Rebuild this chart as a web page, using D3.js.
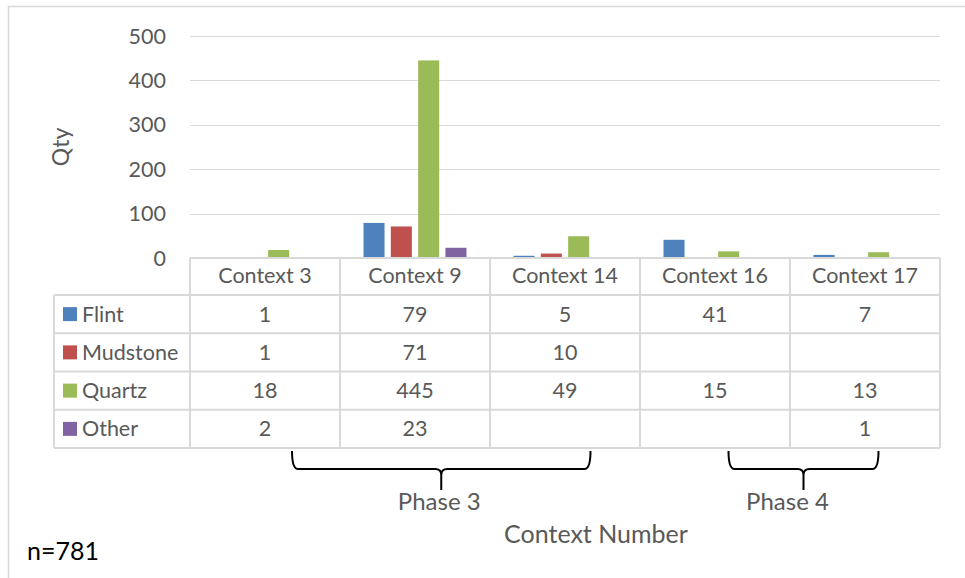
<!DOCTYPE html>
<html lang="en">
  <head>
    <meta charset="UTF-8" />
    <style>
      body {
        margin: 0;
        background: #fff;
      }
      svg {
        font-family: Lato, "Open Sans", sans-serif;
        font-size: 21.5px;
      }
      .grid line {
        stroke: #d9d9d9;
        stroke-width: 1.5;
        shape-rendering: crispEdges;
      }
      .tbl line {
        stroke: #d9d9d9;
        stroke-width: 2;
      }
      .lbl {
        fill: #595959;
      }
      .brace {
        fill: none;
        stroke: #000;
        stroke-width: 2;
      }
    </style>
    <script src="https://d3js.org/d3.v7.min.js"></script>
    <title>Qty by context</title>
  </head>
  <body>
    <script>
      // data
      var contexts = ["Context 3", "Context 9", "Context 14", "Context 16", "Context 17"];
      var series = ["Flint", "Mudstone", "Quartz", "Other"];
      var colors = ["#4f81bd", "#c0504d", "#9bbb59", "#8064a2"];
      var flint = [1, 79, 5, 41, 7];
      var mudstone = [1, 71, 10, null, null];
      var quartz = [18, 445, 49, 15, 13];
      var other = [2, 23, null, null, 1];
      var yTicks = [0, 100, 200, 300, 400, 500];
      // phase groupings (start column, end column, fraction inside the column)
      var phases = [
        { name: "Phase 3", from: "Context 3", fromF: 0.68, to: "Context 14", toF: 0.67, shift: -2 },
        { name: "Phase 4", from: "Context 16", fromF: 0.59, to: "Context 17", toF: 0.59, shift: -16 }
      ];

      var values = [flint, mudstone, quartz, other];
      var width = 965,
        height = 578;

      var svg = d3
        .select("body")
        .append("svg")
        .attr("width", width)
        .attr("height", height);

      // chart border
      svg
        .append("rect")
        .attr("x", 8.5)
        .attr("y", 6.5)
        .attr("width", width + 10)
        .attr("height", height + 10)
        .attr("fill", "#fff")
        .attr("stroke", "#d9d9d9")
        .attr("stroke-width", 1.5);

      var x0 = d3.scaleBand().domain(contexts).range([190, 940]).padding(0);
      var x1 = d3
        .scaleBand()
        .domain(series)
        .range([0, x0.bandwidth()])
        .paddingInner(0.23)
        .paddingOuter(0.86);
      var y = d3.scaleLinear().domain([0, 500]).range([258, 36]);

      // gridlines
      svg
        .append("g")
        .attr("class", "grid")
        .selectAll("line")
        .data(yTicks.slice(1))
        .enter()
        .append("line")
        .attr("x1", 190)
        .attr("x2", 940)
        .attr("y1", function (d) { return Math.round(y(d)) + 0.5; })
        .attr("y2", function (d) { return Math.round(y(d)) + 0.5; });

      // y axis labels
      svg
        .append("g")
        .selectAll("text")
        .data(yTicks)
        .enter()
        .append("text")
        .attr("class", "lbl")
        .attr("x", 166)
        .attr("y", function (d) { return y(d); })
        .attr("dy", "0.35em")
        .attr("text-anchor", "end")
        .text(function (d) { return d; });

      svg
        .append("text")
        .attr("class", "lbl")
        .attr("transform", "translate(69,147) rotate(-90)")
        .attr("text-anchor", "middle")
        .style("font-size", "23px")
        .text("Qty");

      // bars
      var bars = [];
      series.forEach(function (s, i) {
        contexts.forEach(function (c, j) {
          if (values[i][j] != null) bars.push({ s: s, c: c, v: values[i][j], color: colors[i] });
        });
      });
      svg
        .append("g")
        .selectAll("rect")
        .data(bars)
        .enter()
        .append("rect")
        .attr("x", function (d) { return x0(d.c) + x1(d.s); })
        .attr("y", function (d) { return y(d.v); })
        .attr("width", x1.bandwidth())
        .attr("height", function (d) { return y(0) - y(d.v); })
        .attr("fill", function (d) { return d.color; });

      // data table
      var rowY = d3.scaleBand().domain(series).range([295, 448]);
      var tbl = svg.append("g").attr("class", "tbl");

      // horizontal lines
      tbl.append("line").attr("x1", 190).attr("x2", 940).attr("y1", 258).attr("y2", 258);
      [295].concat(series.map(function (s) { return rowY(s) + rowY.bandwidth(); })).forEach(function (yy) {
        tbl.append("line").attr("x1", 54).attr("x2", 940).attr("y1", yy).attr("y2", yy);
      });
      // vertical lines
      contexts.forEach(function (c) {
        tbl.append("line").attr("x1", x0(c)).attr("x2", x0(c)).attr("y1", 258).attr("y2", 448);
      });
      tbl.append("line").attr("x1", 940).attr("x2", 940).attr("y1", 258).attr("y2", 448);
      tbl.append("line").attr("x1", 54).attr("x2", 54).attr("y1", 295).attr("y2", 448);

      // column headers
      svg
        .append("g")
        .selectAll("text")
        .data(contexts)
        .enter()
        .append("text")
        .attr("class", "lbl")
        .attr("x", function (d) { return x0(d) + x0.bandwidth() / 2; })
        .attr("y", 283)
        .attr("text-anchor", "middle")
        .text(function (d) { return d; });

      // legend keys + names
      var leg = svg
        .append("g")
        .selectAll("g")
        .data(series)
        .enter()
        .append("g")
        .attr("transform", function (d) { return "translate(0," + (rowY(d) + rowY.bandwidth() / 2) + ")"; });
      leg
        .append("rect")
        .attr("x", 63)
        .attr("y", -7)
        .attr("width", 14)
        .attr("height", 14)
        .attr("fill", function (d, i) { return colors[i]; });
      leg
        .append("text")
        .attr("class", "lbl")
        .attr("x", 82)
        .attr("dy", "0.35em")
        .text(function (d) { return d; });

      // cell values
      svg
        .append("g")
        .selectAll("text")
        .data(bars)
        .enter()
        .append("text")
        .attr("class", "lbl")
        .attr("x", function (d) { return x0(d.c) + x0.bandwidth() / 2; })
        .attr("y", function (d) { return rowY(d.s) + rowY.bandwidth() / 2; })
        .attr("dy", "0.35em")
        .attr("text-anchor", "middle")
        .text(function (d) { return d.v; });

      // phase braces
      var bTop = 451,
        bMid = 469,
        bBot = 490,
        r = 6;
      phases.forEach(function (p) {
        var a = x0(p.from) + x0.bandwidth() * p.fromF;
        var b = x0(p.to) + x0.bandwidth() * p.toF;
        var t = (a + b) / 2;
        var path = d3.path();
        path.moveTo(a, bTop);
        path.quadraticCurveTo(a, bMid, a + r, bMid);
        path.lineTo(t - r, bMid);
        path.quadraticCurveTo(t, bMid, t, bMid + r);
        path.lineTo(t, bBot);
        path.moveTo(t, bMid + r);
        path.quadraticCurveTo(t, bMid, t + r, bMid);
        path.lineTo(b - r, bMid);
        path.quadraticCurveTo(b, bMid, b, bTop);
        svg.append("path").attr("class", "brace").attr("d", path.toString());
        svg
          .append("text")
          .attr("class", "lbl")
          .attr("x", t + p.shift)
          .attr("y", 510)
          .attr("text-anchor", "middle")
          .style("font-size", "24px")
          .text(p.name);
      });

      svg
        .append("text")
        .attr("class", "lbl")
        .attr("x", 596)
        .attr("y", 543)
        .attr("text-anchor", "middle")
        .style("font-size", "25px")
        .text("Context Number");

      svg
        .append("text")
        .attr("x", 27)
        .attr("y", 560)
        .attr("fill", "#000")
        .style("font-size", "25px")
        .text("n=781");
    </script>
  </body>
</html>
